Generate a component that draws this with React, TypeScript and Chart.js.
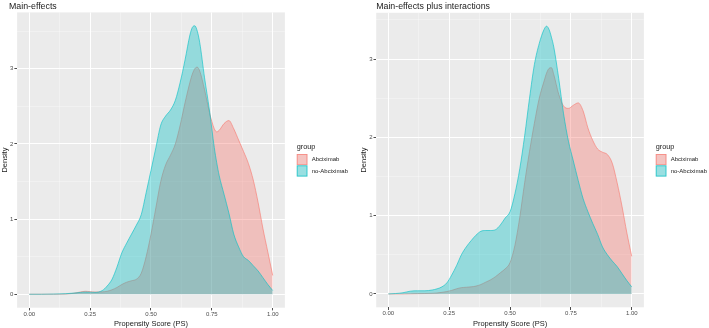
import React, { useEffect, useRef } from "react";
import { Chart, registerables } from "chart.js";

Chart.register(...registerables);

// Group names and colours (ggplot default hue palette)
const GROUPS = ["Abciximab", "no-Abciximab"];
const GROUP_LINE = ["rgba(248,118,109,0.8)", "rgba(0,191,196,0.8)"];
const GROUP_FILL = ["rgba(248,118,109,0.37)", "rgba(0,191,196,0.37)"];

// Axis breaks
const X_MAJOR = [0, 0.25, 0.5, 0.75, 1];
const X_MINOR = [0.125, 0.375, 0.625, 0.875];
const Y_MAJOR = [0, 1, 2, 3];
const Y_MINOR = [0.5, 1.5, 2.5, 3.5];

// Main-effects model: propensity score grid and densities
const psMain = [
  0, 0.05, 0.1, 0.15, 0.18, 0.21, 0.23, 0.25, 0.27, 0.3, 0.32, 0.34, 0.36, 0.38, 0.4, 0.42,
  0.44, 0.46, 0.48, 0.5, 0.52, 0.54, 0.56, 0.58, 0.6, 0.62, 0.64, 0.66, 0.67, 0.68, 0.69, 0.7,
  0.72, 0.74, 0.76, 0.77, 0.78, 0.8, 0.82, 0.84, 0.86, 0.88, 0.9, 0.92, 0.94, 0.96, 0.98, 1.0,
];
const abcMain = [
  0, 0, 0, 0.003, 0.012, 0.03, 0.04, 0.035, 0.03, 0.032, 0.04, 0.06, 0.09, 0.13, 0.16, 0.18,
  0.2, 0.28, 0.5, 0.8, 1.15, 1.5, 1.72, 1.85, 2.0, 2.25, 2.55, 2.82, 2.93, 3.0, 3.02, 2.97,
  2.72, 2.42, 2.2, 2.16, 2.18, 2.27, 2.31, 2.2, 2.05, 1.9, 1.74, 1.52, 1.22, 0.87, 0.56, 0.25,
];
const noAbcMain = [
  0, 0, 0.003, 0.008, 0.015, 0.025, 0.03, 0.028, 0.025, 0.05, 0.11, 0.2, 0.36, 0.55, 0.68, 0.8,
  0.92, 1.06, 1.35, 1.65, 1.95, 2.25, 2.37, 2.45, 2.58, 2.82, 3.12, 3.45, 3.55, 3.57, 3.5, 3.35,
  2.88, 2.45, 1.95, 1.75, 1.58, 1.33, 1.08, 0.8, 0.63, 0.5, 0.45, 0.38, 0.31, 0.22, 0.13, 0.05,
];

// Main-effects plus interactions model
const psInter = [
  0, 0.03, 0.06, 0.09, 0.12, 0.15, 0.18, 0.2, 0.22, 0.24, 0.26, 0.28, 0.3, 0.32, 0.34, 0.36,
  0.38, 0.4, 0.42, 0.44, 0.46, 0.48, 0.5, 0.52, 0.54, 0.56, 0.58, 0.6, 0.62, 0.64, 0.65, 0.66,
  0.67, 0.68, 0.7, 0.72, 0.74, 0.76, 0.78, 0.8, 0.82, 0.84, 0.86, 0.88, 0.9, 0.92, 0.94, 0.96,
  0.98, 1.0,
];
const abcInter = [
  0, 0, 0, 0.002, 0.004, 0.005, 0.008, 0.012, 0.02, 0.03, 0.045, 0.065, 0.08, 0.085, 0.09, 0.1,
  0.12, 0.15, 0.18, 0.22, 0.27, 0.32, 0.4, 0.62, 0.98, 1.42, 1.82, 2.18, 2.5, 2.72, 2.82, 2.88,
  2.89, 2.8, 2.55, 2.4, 2.37, 2.41, 2.44, 2.34, 2.12, 1.96, 1.85, 1.81, 1.78, 1.67, 1.42, 1.12,
  0.78, 0.48,
];
const noAbcInter = [
  0, 0.005, 0.015, 0.035, 0.04, 0.04, 0.05, 0.065, 0.09, 0.14, 0.24, 0.36, 0.5, 0.6, 0.68, 0.75,
  0.8, 0.81, 0.81, 0.82, 0.88, 0.97, 1.05, 1.28, 1.6, 2.02, 2.5, 2.93, 3.2, 3.38, 3.42, 3.38,
  3.28, 3.15, 2.75, 2.3, 1.95, 1.7, 1.45, 1.22, 1.05, 0.9, 0.76, 0.6, 0.5, 0.42, 0.35, 0.26,
  0.17, 0.09,
];

const FONT = '"Liberation Sans", Arial, sans-serif';
const CANVAS_W = 354;
const CANVAS_H = 328;

type Area = { left: number; right: number; top: number; bottom: number };

type PanelProps = {
  title: string;
  titleX: number;
  yTitlePad: number;
  area: Area;
  offsetX: number;
  ps: number[];
  densities: number[][];
};

const isIn = (list: number[], v: number) => list.some((m) => Math.abs(m - v) < 1e-9);

function DensityPanel({ title, titleX, yTitlePad, area, offsetX, ps, densities }: PanelProps) {
  const ref = useRef<HTMLCanvasElement | null>(null);

  useEffect(() => {
    const canvas = ref.current;
    if (!canvas) return;

    const peak = Math.max(...densities.flat());
    const yMin = -0.05 * peak;
    const yMax = 1.05 * peak;

    const panelBackground = {
      id: "panelBackground",
      beforeDraw(chart: any) {
        const { ctx, chartArea } = chart;
        ctx.save();
        ctx.fillStyle = "#FFFFFF";
        ctx.fillRect(0, 0, chart.width, chart.height);
        ctx.fillStyle = "#EBEBEB";
        ctx.fillRect(chartArea.left, chartArea.top, chartArea.right - chartArea.left, chartArea.bottom - chartArea.top);
        ctx.restore();
      },
    };

    const headingAndLegend = {
      id: "headingAndLegend",
      afterDraw(chart: any) {
        const { ctx, chartArea } = chart;
        ctx.save();
        // plot title
        ctx.fillStyle = "#1A1A1A";
        ctx.font = `8.8px ${FONT}`;
        ctx.textAlign = "left";
        ctx.textBaseline = "alphabetic";
        ctx.fillText(title, titleX, 8.6);

        // legend
        const lx = chartArea.right + 11.8;
        ctx.font = `7.3px ${FONT}`;
        ctx.fillText("group", lx, 148.6);
        const keyW = 10.8;
        const keyH = 11.3;
        GROUPS.forEach((name, i) => {
          const ky = 154 + i * keyH;
          ctx.fillStyle = "#F2F2F2";
          ctx.fillRect(lx, ky, keyW, keyH);
          ctx.fillStyle = GROUP_FILL[i];
          ctx.fillRect(lx + 0.5, ky + 0.5, keyW - 1, keyH - 1);
          ctx.strokeStyle = GROUP_LINE[i];
          ctx.lineWidth = 0.9;
          ctx.strokeRect(lx + 0.5, ky + 0.5, keyW - 1, keyH - 1);
          ctx.fillStyle = "#1A1A1A";
          ctx.font = `6px ${FONT}`;
          ctx.textBaseline = "middle";
          ctx.fillText(name, lx + 15, ky + keyH / 2);
          ctx.textBaseline = "alphabetic";
        });
        ctx.restore();
      },
    };

    const gridColor = (majors: number[]) => (c: any) =>
      c.tick && isIn(majors, c.tick.value) ? "#FFFFFF" : "rgba(255,255,255,0.6)";
    const gridWidth = (majors: number[]) => (c: any) =>
      c.tick && isIn(majors, c.tick.value) ? 1 : 0.5;
    const tickColor = (majors: number[]) => (c: any) =>
      c.tick && isIn(majors, c.tick.value) ? "#4D4D4D" : "rgba(0,0,0,0)";

    const chart = new Chart(canvas, {
      type: "line",
      data: {
        datasets: densities.map((vals, i) => ({
          label: GROUPS[i],
          data: ps.map((x, j) => ({ x, y: vals[j] })),
          borderColor: GROUP_LINE[i],
          backgroundColor: GROUP_FILL[i],
          borderWidth: 0.75,
          fill: "origin",
          pointRadius: 0,
          cubicInterpolationMode: "monotone",
          order: densities.length - 1 - i,
        })),
      },
      options: {
        animation: false,
        responsive: false,
        devicePixelRatio: 1,
        events: [],
        layout: {
          padding: { left: 0, top: area.top, right: CANVAS_W - area.right, bottom: 0 },
        },
        plugins: {
          legend: { display: false },
          tooltip: { enabled: false },
          title: { display: false },
        },
        scales: {
          x: {
            type: "linear",
            min: -0.05,
            max: 1.05,
            afterBuildTicks: (s: any) => {
              s.ticks = [...X_MAJOR, ...X_MINOR].sort((a, b) => a - b).map((v) => ({ value: v }));
            },
            afterFit: (s: any) => {
              s.height = CANVAS_H - area.bottom;
            },
            border: { display: false },
            grid: {
              color: gridColor(X_MAJOR),
              lineWidth: gridWidth(X_MAJOR),
              tickLength: 2.7,
              tickColor: tickColor(X_MAJOR),
              tickWidth: 1,
            },
            ticks: {
              autoSkip: false,
              maxRotation: 0,
              padding: 0,
              color: "#4D4D4D",
              font: { family: FONT, size: 6 },
              callback: (v: any) => (isIn(X_MAJOR, Number(v)) ? Number(v).toFixed(2) : ""),
            },
            title: {
              display: true,
              text: "Propensity Score (PS)",
              color: "#1A1A1A",
              font: { family: FONT, size: 7.5 },
              padding: { top: 0, bottom: 0 },
            },
          },
          y: {
            type: "linear",
            min: yMin,
            max: yMax,
            afterBuildTicks: (s: any) => {
              s.ticks = [...Y_MAJOR, ...Y_MINOR]
                .filter((v) => v <= yMax)
                .sort((a, b) => a - b)
                .map((v) => ({ value: v }));
            },
            afterFit: (s: any) => {
              s.width = area.left;
            },
            border: { display: false },
            grid: {
              color: gridColor(Y_MAJOR),
              lineWidth: gridWidth(Y_MAJOR),
              tickLength: 2.7,
              tickColor: tickColor(Y_MAJOR),
              tickWidth: 1,
            },
            ticks: {
              autoSkip: false,
              padding: 1,
              color: "#4D4D4D",
              font: { family: FONT, size: 6 },
              callback: (v: any) => (isIn(Y_MAJOR, Number(v)) ? String(Number(v)) : ""),
            },
            title: {
              display: true,
              text: "Density",
              color: "#1A1A1A",
              font: { family: FONT, size: 7.5 },
              padding: { top: yTitlePad, bottom: 0 },
            },
          },
        },
      } as any,
      plugins: [panelBackground, headingAndLegend],
    });

    return () => chart.destroy();
  }, []);

  return (
    <canvas
      ref={ref}
      width={CANVAS_W}
      height={CANVAS_H}
      style={{ position: "absolute", left: offsetX, top: 0, width: CANVAS_W, height: CANVAS_H }}
    />
  );
}

export default function App() {
  return (
    <div style={{ position: "fixed", left: 0, top: 0, width: 709, height: 328, background: "#FFFFFF" }}>
      <DensityPanel
        title="Main-effects"
        titleX={9}
        yTitlePad={0}
        area={{ left: 17.1, right: 284.9, top: 12.4, bottom: 307.7 }}
        offsetX={0}
        ps={psMain}
        densities={[abcMain, noAbcMain]}
      />
      <DensityPanel
        title="Main-effects plus interactions"
        titleX={21.2}
        yTitlePad={4.5}
        area={{ left: 21.2, right: 288.9, top: 12.8, bottom: 307.3 }}
        offsetX={355}
        ps={psInter}
        densities={[abcInter, noAbcInter]}
      />
    </div>
  );
}
